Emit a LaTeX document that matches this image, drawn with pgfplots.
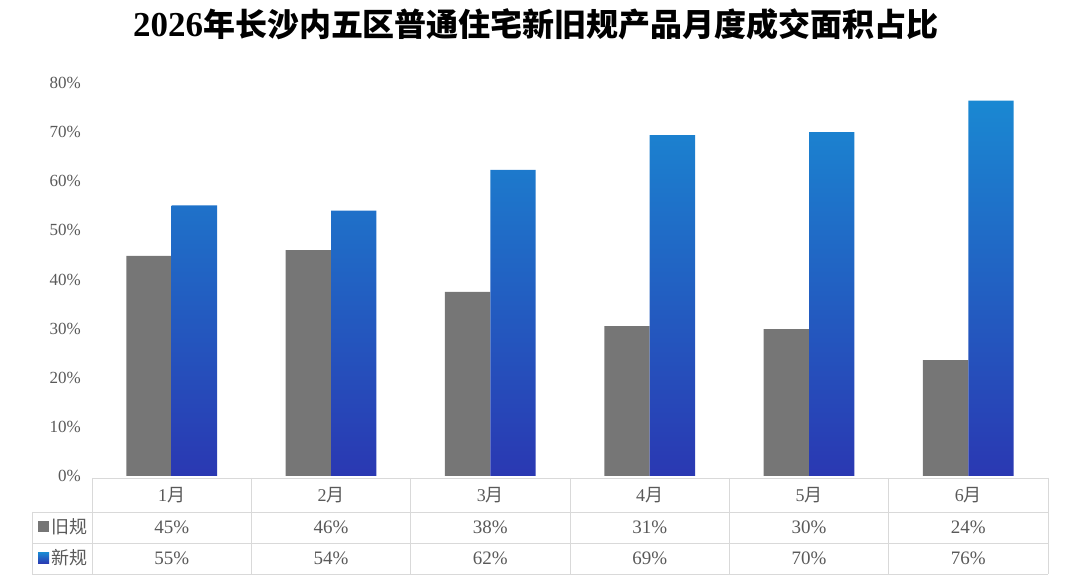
\documentclass[border=0pt]{standalone}
\usepackage{pgfplots}
\pgfplotsset{compat=1.18}
\usepackage{fontspec}
\setmainfont{Liberation Serif}
\newfontfamily\cjk{Noto Sans CJK SC}
\definecolor{oldgray}{HTML}{767676}
\definecolor{bluetop}{HTML}{1A88D2}
\definecolor{bluebot}{HTML}{2A38B2}
\definecolor{txt}{HTML}{595959}
\definecolor{grid}{HTML}{D9D9D9}
\begin{document}
\begin{tikzpicture}[x=1pt,y=1pt]
\path (0,0) rectangle (1069,586);
\node[font=\fontsize{35}{38}\selectfont\bfseries, text=black] at (536,562) {2026{\fontsize{32}{36}\selectfont\cjk 年长沙内五区普通住宅新旧规产品月度成交面积占比}};
\begin{axis}[
  at={(92pt,110pt)}, anchor=south west,
  scale only axis, width=956pt, height=393pt,
  xmin=-0.5, xmax=5.5, ymin=0, ymax=80,
  axis lines=none,
  ybar=0pt, bar width=0.285,
  xtick=\empty, ytick=\empty,
  clip=false,
]
\addplot[ybar, draw=none, fill=oldgray] coordinates {(0,44.8) (1,46.0) (2,37.5) (3,30.5) (4,29.9) (5,23.6)};
\addplot[ybar, draw=none, top color=bluetop, bottom color=bluebot] coordinates {(0,55.1) (1,54.0) (2,62.3) (3,69.4) (4,70.0) (5,76.4)};
\end{axis}
% y tick labels
\foreach \v in {0,10,...,80}{
  \node[anchor=east, inner sep=0pt, text=txt, font=\fontsize{17}{18}\selectfont] at (81, 110+\v*4.9125) {\v\%};
}
% table grid
\draw[grid, line width=0.8pt] (92,108) -- (1048,108);
\foreach \yy in {74,43,12} \draw[grid, line width=0.8pt] (32,\yy) -- (1048,\yy);
\draw[grid, line width=0.8pt] (32,74) -- (32,12);
\foreach \i in {0,...,6} \draw[grid, line width=0.8pt] (92+\i*159.333,108) -- (92+\i*159.333,12);
% header
\foreach \m [count=\i from 0] in {1,2,3,4,5,6}{
  \node[text=txt, font=\fontsize{18}{19}\selectfont] at (92+79.667+\i*159.333,91) {\m{\cjk 月}};
}
\foreach \v [count=\i from 0] in {45,46,38,31,30,24}{
  \node[text=txt, font=\fontsize{19}{20}\selectfont] at (92+79.667+\i*159.333,59) {\v\%};
}
\foreach \v [count=\i from 0] in {55,54,62,69,70,76}{
  \node[text=txt, font=\fontsize{19}{20}\selectfont] at (92+79.667+\i*159.333,28) {\v\%};
}
% legend keys
\fill[oldgray] (38,53.5) rectangle (49,64.5);
\shade[top color=bluetop, bottom color=bluebot] (38,22.5) rectangle (49,33.5);
\node[anchor=west, inner sep=0pt, text=txt, font=\fontsize{18}{19}\selectfont\cjk] at (51,59) {旧规};
\node[anchor=west, inner sep=0pt, text=txt, font=\fontsize{18}{19}\selectfont\cjk] at (51,28) {新规};
\end{tikzpicture}
\end{document}
